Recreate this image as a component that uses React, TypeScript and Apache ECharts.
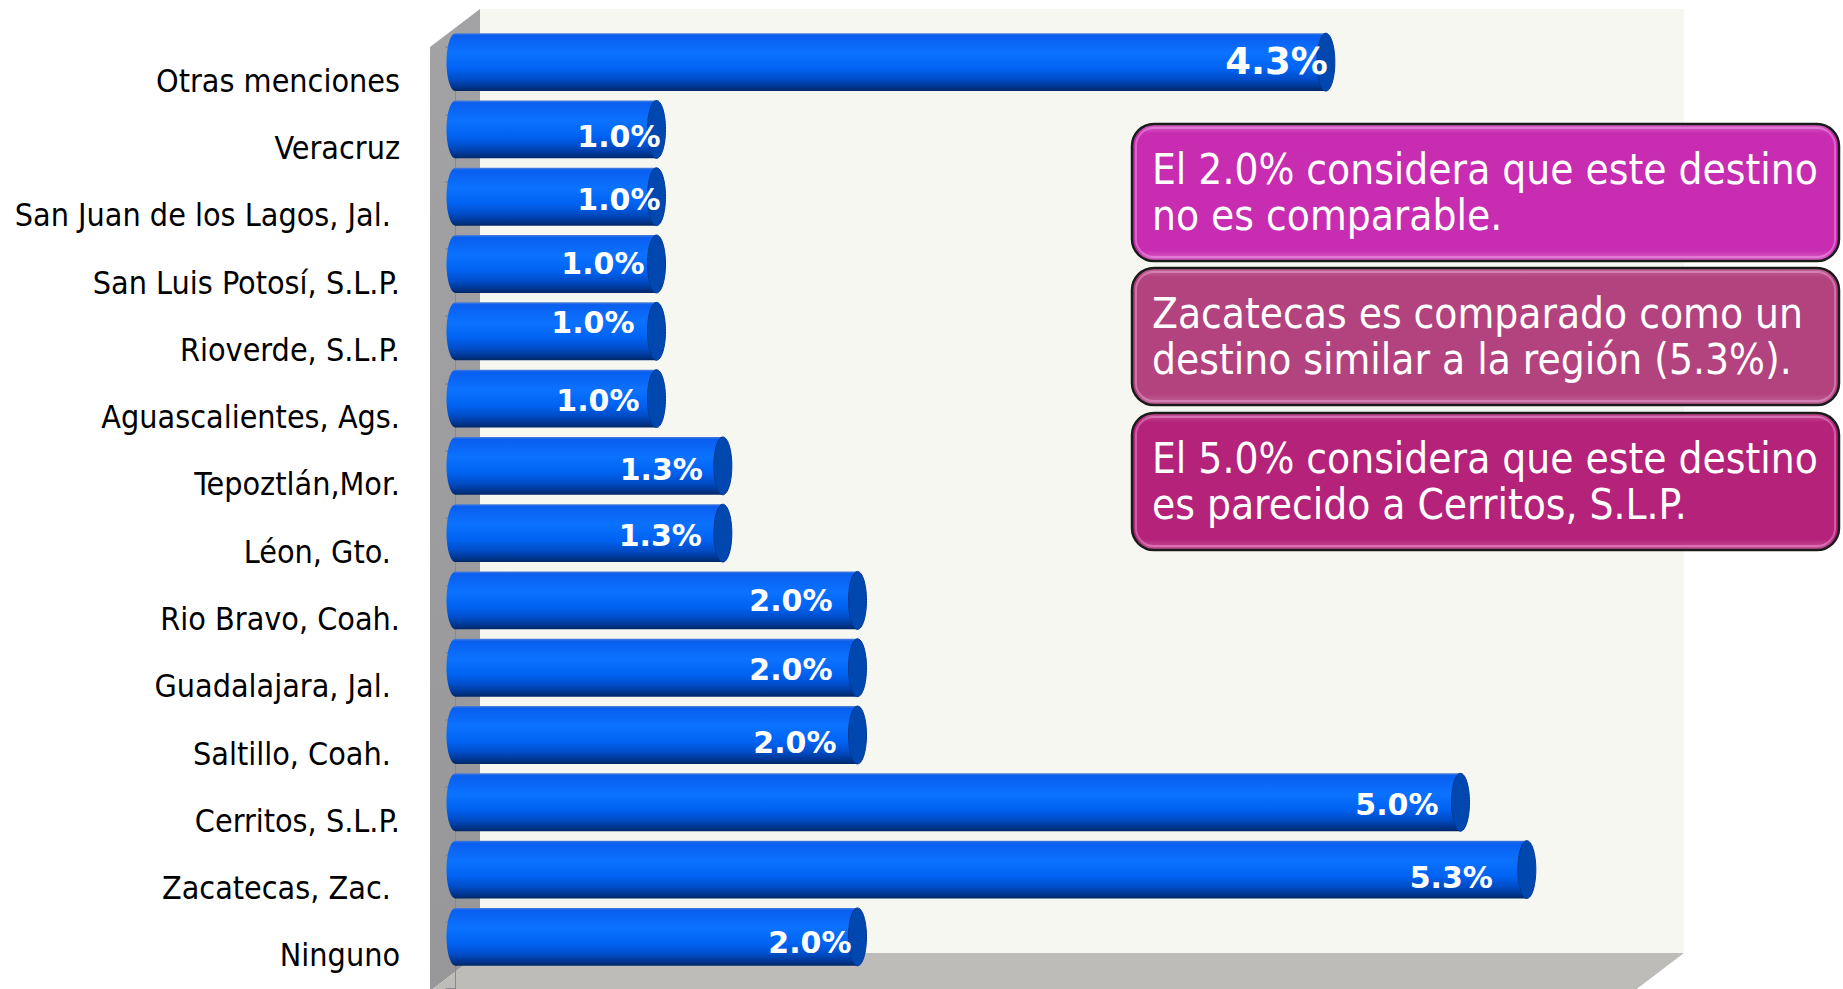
import React, { useEffect, useRef } from "react";
import * as echarts from "echarts";

// ---------- data ----------
const categories = [
  "Otras menciones",
  "Veracruz",
  "San Juan de los Lagos, Jal. ",
  "San Luis Potosí, S.L.P.",
  "Rioverde, S.L.P.",
  "Aguascalientes, Ags.",
  "Tepoztlán,Mor.",
  "Léon, Gto. ",
  "Rio Bravo, Coah.",
  "Guadalajara, Jal. ",
  "Saltillo, Coah. ",
  "Cerritos, S.L.P.",
  "Zacatecas, Zac. ",
  "Ninguno",
];
const values = [4.33, 1.0, 1.0, 1.0, 1.0, 1.0, 1.33, 1.33, 2.0, 2.0, 2.0, 5.0, 5.33, 2.0];
// hand-placed label nudges of the original slide
const labelDx = [2, 4, 4, -12, -22, -17, -20, -21, -25, -25, -21, -22, -34, -6];
const labelDy = [-1, 7, 3, -1, -9, 2, 4, 2, 0, 2, 7, 2, 8, 6];
const labelSize = [37, 30, 30, 30, 30, 30, 30, 30, 30, 30, 30, 30, 30, 30];
const valueMin = 0;
const valueMax = 6;

const notes = [
  "El 2.0% considera que este destino\nno es comparable.",
  "Zacatecas es comparado como un\ndestino similar a la región (5.3%).",
  "El 5.0% considera que este destino\nes parecido a Cerritos, S.L.P.",
];
const noteColors = ["#c72cb1", "#b3437f", "#b4227a"];
const noteLight = ["#d865c8", "#c4699a", "#c85597"];

const COND = "'DejaVu Sans Condensed', 'Liberation Sans Narrow', 'DejaVu Sans', sans-serif";
const BOLD = "'DejaVu Sans', Verdana, sans-serif";

function buildNotes() {
  const bx = 1132;
  const bw = 707;
  const bh = 137;
  const tops = [124, 268, 413];
  const els: any[] = [];
  notes.forEach((t, i) => {
    const y = tops[i];
    els.push({
      type: "group",
      z: 20,
      children: [
        {
          type: "rect",
          shape: { x: bx, y, width: bw, height: bh, r: 22 },
          style: {
            fill: new echarts.graphic.LinearGradient(0, 0, 0, 1, [
              { offset: 0, color: noteLight[i] },
              { offset: 0.07, color: noteColors[i] },
              { offset: 0.92, color: noteColors[i] },
              { offset: 1, color: noteLight[i] },
            ]),
            stroke: "#1b1b1b",
            lineWidth: 2.5,
          },
        },
        {
          type: "rect",
          shape: { x: bx + 4, y: y + 4, width: bw - 8, height: bh - 8, r: 18 },
          style: { fill: "none", stroke: "rgba(255,200,245,0.35)", lineWidth: 2 },
        },
        {
          type: "line",
          shape: { x1: bx + 11, y1: y + 17, x2: bx + 11, y2: y + bh - 20 },
          style: {
            stroke: new echarts.graphic.LinearGradient(0, 0, 0, 1, [
              { offset: 0, color: "rgba(255,215,250,0.95)" },
              { offset: 0.5, color: "rgba(250,170,240,0.75)" },
              { offset: 1, color: "rgba(250,170,240,0.2)" },
            ]),
            lineWidth: 4,
            lineCap: "round",
          },
        },
        {
          type: "line",
          shape: { x1: bx + bw - 11, y1: y + 22, x2: bx + bw - 11, y2: y + bh - 14 },
          style: {
            stroke: new echarts.graphic.LinearGradient(0, 0, 0, 1, [
              { offset: 0, color: "rgba(250,170,240,0.3)" },
              { offset: 0.5, color: "rgba(250,170,240,0.7)" },
              { offset: 1, color: "rgba(255,215,250,0.95)" },
            ]),
            lineWidth: 4,
            lineCap: "round",
          },
        },
        {
          type: "text",
          style: {
            text: t,
            x: bx + 20,
            y: y + bh / 2,
            align: "left",
            verticalAlign: "middle",
            fill: "#ffffff",
            font: `42px ${COND}`,
            lineHeight: 46,
          },
        },
      ],
    });
  });
  return els;
}

function buildWalls() {
  return [
    {
      type: "rect",
      z: -10,
      shape: { x: 480, y: 9, width: 1204, height: 944 },
      style: { fill: "#f7f7f2" },
    },
    {
      type: "polygon",
      z: -10,
      shape: { points: [[430, 47], [480, 9], [480, 953], [430, 991]] },
      style: {
        fill: new echarts.graphic.LinearGradient(0, 0, 0, 1, [
          { offset: 0, color: "#a3a3a6" },
          { offset: 1, color: "#97979a" },
        ]),
      },
    },
    {
      type: "polygon",
      z: -10,
      shape: { points: [[480, 953], [1684, 953], [1634, 991], [430, 991]] },
      style: { fill: "#bdbcb9" },
    },
  ];
}

const bodyGradient = () =>
  new echarts.graphic.LinearGradient(0, 0, 0, 1, [
    { offset: 0, color: "#4c7fd6" },
    { offset: 0.04, color: "#0a5eef" },
    { offset: 0.35, color: "#0b72ff" },
    { offset: 0.62, color: "#0062f2" },
    { offset: 0.8, color: "#004cc6" },
    { offset: 0.93, color: "#00358f" },
    { offset: 1, color: "#002766" },
  ]);

export default function App() {
  const ref = useRef<HTMLDivElement>(null);
  useEffect(() => {
    document.body.style.margin = "0";
    if (!ref.current) return;
    const chart = echarts.init(ref.current, undefined, { renderer: "svg" });
    const data = values.map((v, i) => [v, i]);
    chart.setOption({
      animation: false,
      backgroundColor: "#ffffff",
      grid: { left: 455.5, right: 181.5, top: 47, bottom: 0, containLabel: false },
      xAxis: { type: "value", min: valueMin, max: valueMax, show: false },
      yAxis: {
        type: "category",
        inverse: true,
        data: categories,
        offset: 25.5,
        axisLine: { show: true, lineStyle: { color: "#8a8a8c", width: 1 } },
        axisTick: { show: true, length: 10, lineStyle: { color: "#8a8a8c", width: 2 } },
        axisLabel: {
          margin: 30,
          color: "#000000",
          fontSize: 32,
          fontFamily: COND,
          padding: [5, 0, 0, 0],
        },
        splitLine: { show: false },
      },
      graphic: [...buildWalls(), ...buildNotes()],
      series: [
        {
          type: "custom",
          encode: { x: 0, y: 1 },
          data,
          z: 5,
          renderItem: (params: any, api: any) => {
            const v = api.value(0);
            const idx = api.value(1);
            const end = api.coord([v, idx]);
            const start = api.coord([0, idx]);
            const band = api.size([0, 1])[1];
            const h = band * 0.86;
            const cy = end[1] - 18.5;
            const top = cy - h / 2;
            const rx = 9;
            const i = params.dataIndex;
            return {
              type: "group",
              children: [
                {
                  type: "ellipse",
                  shape: { cx: start[0], cy, rx, ry: h / 2 },
                  style: { fill: bodyGradient() },
                },
                {
                  type: "rect",
                  shape: { x: start[0], y: top, width: end[0] - start[0], height: h },
                  style: { fill: bodyGradient() },
                },
                {
                  type: "ellipse",
                  shape: { cx: end[0], cy, rx, ry: h / 2 },
                  style: { fill: "#0047b0", stroke: "#003a90", lineWidth: 1 },
                },
                {
                  type: "text",
                  style: {
                    text: v.toFixed(1) + "%",
                    x: end[0] + labelDx[i],
                    y: cy + labelDy[i],
                    align: "right",
                    verticalAlign: "middle",
                    fill: "#ffffff",
                    font: `bold ${labelSize[i]}px ${BOLD}`,
                  },
                },
              ],
            };
          },
        },
      ],
    });
    return () => chart.dispose();
  }, []);
  return <div ref={ref} style={{ width: 1843, height: 989, overflow: "hidden" }} />;
}
